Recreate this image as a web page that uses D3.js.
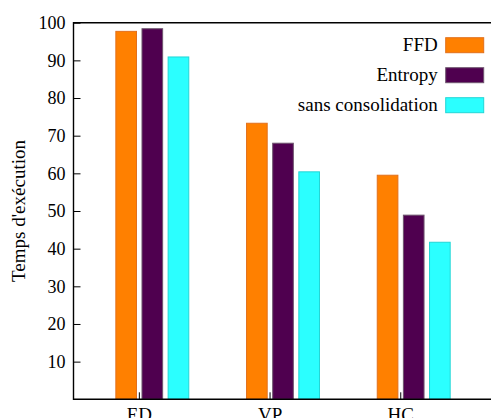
<!DOCTYPE html>
<html>
<head>
<meta charset="utf-8">
<script src="https://cdn.jsdelivr.net/npm/d3@7"></script>
<style>
	body { margin: 0; background: #fff; }
	text { font-family: "Liberation Serif", "Times New Roman", serif; fill: #000; }
</style>
</head>
<body>
<div id="chart"></div>
<script>
var categories = ['ED', 'VP', 'HC'],
	series = ['FFD', 'Entropy', 'sans consolidation'],
	ffd = [97.7, 73.3, 59.5],
	entropy = [98.4, 68.0, 48.9],
	sansConsolidation = [90.9, 60.4, 41.7],
	yTicks = [10, 20, 30, 40, 50, 60, 70, 80, 90, 100];

var values = [ffd, entropy, sansConsolidation],
	fills = ['#ff8000', '#4f004f', '#2bffff'],
	strokes = ['#e2701c', '#6e556e', '#22d6d6'];

var width = 491,
	height = 418,
	plotLeft = 73.5,
	plotTop = 22.7,
	plotBottom = 399.3,
	step = 130.7;

var svg = d3.select('#chart').append('svg')
	.attr('width', width)
	.attr('height', height);

var x = d3.scaleLinear()
	.domain([-0.5, 2.7])
	.range([plotLeft, plotLeft + 3.2 * step]);

var y = d3.scaleLinear()
	.domain([0, 100])
	.range([plotBottom, plotTop]);

// gnuplot-ish cluster layout: offsets in category units
var offsets = [-0.176, 0.024, 0.224],
	boxWidth = 0.158;

values.forEach(function(vals, s) {
	svg.append('g')
		.selectAll('rect')
		.data(vals)
		.enter()
		.append('rect')
		.attr('x', (d, i) => x(i + offsets[s]))
		.attr('width', x(boxWidth) - x(0))
		.attr('y', d => y(d))
		.attr('height', d => y(0) - y(d))
		.attr('fill', fills[s])
		.attr('stroke', strokes[s])
		.attr('stroke-width', 1);
});

var yAxis = svg.append('g')
	.attr('transform', 'translate(' + plotLeft + ',0)')
	.call(d3.axisLeft(y).tickValues(yTicks).tickSizeInner(-7).tickSizeOuter(0).tickPadding(8));
yAxis.select('.domain').remove();
yAxis.selectAll('text').style('font-size', '18px');
yAxis.selectAll('line').attr('stroke-width', 1);

var xAxis = svg.append('g')
	.attr('transform', 'translate(0,' + plotBottom + ')')
	.call(d3.axisBottom(x).tickValues([0, 1, 2]).tickFormat(i => categories[i])
		.tickSizeInner(-7).tickSizeOuter(0).tickPadding(8));
xAxis.select('.domain').remove();
xAxis.selectAll('text').style('font-size', '19px');
xAxis.selectAll('line').attr('stroke-width', 1);

// frame: left, top, bottom
svg.append('path')
	.attr('d', 'M' + (width + 2) + ',' + plotTop + 'H' + plotLeft + 'V' + plotBottom + 'H' + (width + 2))
	.attr('fill', 'none')
	.attr('stroke', '#000')
	.attr('stroke-width', 1.4);

svg.append('text')
	.attr('transform', 'translate(25,211) rotate(-90)')
	.attr('text-anchor', 'middle')
	.style('font-size', '19px')
	.text("Temps d'exécution");

var legend = svg.append('g')
	.selectAll('g')
	.data(series)
	.enter()
	.append('g')
	.attr('transform', (d, i) => 'translate(0,' + (37.7 + i * 30) + ')');

legend.append('rect')
	.attr('x', 445.7)
	.attr('width', 38)
	.attr('height', 15)
	.attr('fill', (d, i) => fills[i])
	.attr('stroke', (d, i) => strokes[i]);

legend.append('text')
	.attr('x', 437.7)
	.attr('y', 7.5)
	.attr('dy', '0.32em')
	.attr('text-anchor', 'end')
	.style('font-size', '19px')
	.text(d => d);
</script>
</body>
</html>
